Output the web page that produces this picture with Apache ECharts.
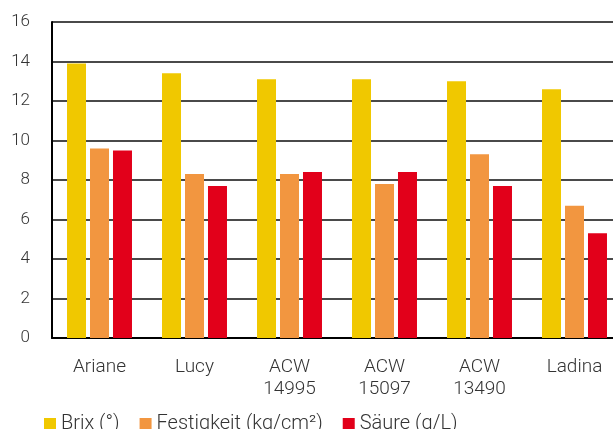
<!DOCTYPE html>
<html>
<head>
<meta charset="utf-8">
<script src="https://cdn.jsdelivr.net/npm/echarts@6/dist/echarts.min.js"></script>
<style>
  html, body { margin: 0; padding: 0; background: #fff; overflow: hidden; }
  /* the plot runs past the right edge of the window, so the canvas is a bit wider */
  #chart { width: 622px; height: 429px; }
</style>
</head>
<body>
<div id="chart"></div>
<script>
// Varieties and measured fruit quality values
const categories = ['Ariane', 'Lucy', 'ACW\n14995', 'ACW\n15097', 'ACW\n13490', 'Ladina'];
const brix = [13.9, 13.4, 13.1, 13.1, 13.0, 12.6];
const festigkeit = [9.6, 8.3, 8.3, 7.8, 9.3, 6.7];
const saeure = [9.5, 7.7, 8.4, 8.4, 7.7, 5.3];
const seriesNames = ['Brix (°)', 'Festigkeit (kg/cm²)', 'Säure (g/L)'];
const colors = ['#f0c800', '#f29640', '#e2001a'];

const font = 'Roboto, "Liberation Sans", sans-serif';
const chart = echarts.init(document.getElementById('chart'), null, { renderer: 'canvas' });

const makeBar = (name, data, color) => ({
  name: name,
  type: 'bar',
  data: data,
  barWidth: 19,
  barGap: '21%',
  barCategoryGap: '31%',
  itemStyle: { color: color },
  emphasis: { disabled: true }
});

chart.setOption({
  animation: false,
  color: colors,
  grid: { left: 52, top: 22, right: 0, bottom: 91, containLabel: false },
  legend: {
    left: 44,
    top: 414,
    padding: 0,
    icon: 'rect',
    itemWidth: 12,
    itemHeight: 12,
    itemGap: 20,
    textStyle: {
      fontFamily: font, fontSize: 20, fontWeight: 300, color: '#333',
      padding: [0, 0, 6, 0]
    },
    data: seriesNames
  },
  xAxis: {
    type: 'category',
    data: categories,
    axisTick: { show: false },
    axisLine: { lineStyle: { color: '#000', width: 2 } },
    axisLabel: {
      fontFamily: font,
      fontSize: 19,
      fontWeight: 300,
      color: '#333',
      margin: 18,
      lineHeight: 22
    }
  },
  yAxis: {
    type: 'value',
    min: 0,
    max: 16,
    interval: 2,
    axisLine: { show: true, lineStyle: { color: '#000', width: 2 } },
    axisTick: { show: false },
    splitLine: { lineStyle: { color: '#4a4a4a', width: 2 } },
    axisLabel: {
      fontFamily: font,
      fontSize: 17,
      fontWeight: 300,
      color: '#333',
      margin: 22
    }
  },
  series: [
    makeBar(seriesNames[0], brix, colors[0]),
    makeBar(seriesNames[1], festigkeit, colors[1]),
    makeBar(seriesNames[2], saeure, colors[2])
  ]
});
</script>
</body>
</html>
